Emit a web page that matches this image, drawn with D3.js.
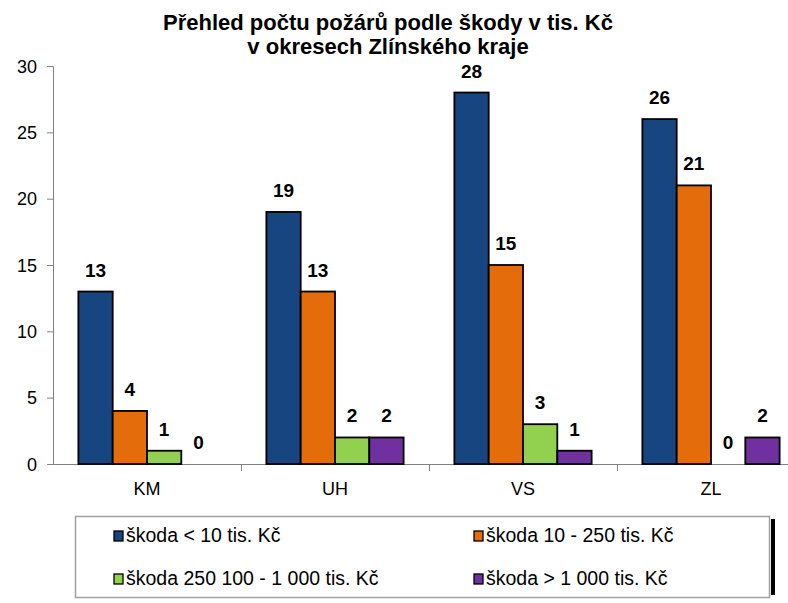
<!DOCTYPE html>
<html><head><meta charset="utf-8">
<script src="https://cdn.jsdelivr.net/npm/d3@7"></script>
<style>body{margin:0;background:#fff;} svg{display:block;font-family:Arial,"Liberation Sans",sans-serif;}</style>
</head><body>
<svg id="c" width="788" height="603"></svg>
<script>
const titleLines = ["Přehled počtu požárů podle škody v tis. Kč", "v okresech Zlínského kraje"];
const categories = ["KM", "UH", "VS", "ZL"];
const seriesNames = ["škoda < 10 tis. Kč", "škoda 10 - 250 tis. Kč", "škoda 250 100 - 1 000 tis. Kč", "škoda > 1 000 tis. Kč"];
const serLess10 = [13, 19, 28, 26];
const ser10to250 = [4, 13, 15, 21];
const ser250to1000 = [1, 2, 3, 0];
const serOver1000 = [0, 2, 1, 2];
const colors = ["#17457f", "#e46c0a", "#92d050", "#7030a0"];
const yTicks = [0, 5, 10, 15, 20, 25, 30];

const series = [serLess10, ser10to250, ser250to1000, serOver1000];
const svg = d3.select("#c");
const FONT = "Arial,'Liberation Sans',sans-serif";
const pLeft = 53, pRight = 805, pTop = 66, pBottom = 464;

const x = d3.scaleBand().domain(categories).range([pLeft, pRight]).paddingInner(0).paddingOuter(0);
const xi = d3.scaleBand().domain(d3.range(4)).range([0, x.bandwidth()]).paddingOuter(0.74).paddingInner(0);
const y = d3.scaleLinear().domain([0, 30]).range([pBottom, pTop]);

// title
svg.append("text").attr("text-anchor", "middle")
  .attr("font-weight", "bold").attr("font-size", 22).attr("fill", "#000")
  .selectAll("tspan").data(titleLines).join("tspan")
  .attr("x", 388).attr("y", (d, i) => 30 + i * 24).text(d => d);

// y axis
const yAxis = svg.append("g").attr("transform", `translate(${pLeft},0)`)
  .call(d3.axisLeft(y).tickValues(yTicks).tickSize(6).tickPadding(10));
yAxis.selectAll("path,line").attr("stroke", "#808080");
yAxis.selectAll("text").attr("font-size", 18).attr("fill", "#000").attr("font-family", FONT).attr("dy", "0.35em");

// x axis
const xAxis = svg.append("g").attr("transform", `translate(0,${pBottom})`)
  .call(d3.axisBottom(x).tickSize(0).tickPadding(18));
xAxis.select("path").attr("stroke", "#808080").attr("d", `M${pLeft},0.5H${pRight}`);
xAxis.selectAll("text").attr("font-size", 18).attr("fill", "#000").attr("font-family", FONT);
// category separators
svg.append("g").selectAll("line").data(categories.slice(1)).join("line")
  .attr("x1", d => x(d) + 0.5).attr("x2", d => x(d) + 0.5)
  .attr("y1", pBottom).attr("y2", pBottom + 7).attr("stroke", "#808080");

// bars
const data = [];
categories.forEach((c, ci) => series.forEach((s, si) => data.push({c, si, v: s[ci]})));
const gBars = svg.append("g");
gBars.selectAll("rect").data(data.filter(d => d.v > 0)).join("rect")
  .attr("x", d => x(d.c) + xi(d.si))
  .attr("width", xi.bandwidth())
  .attr("y", d => y(d.v))
  .attr("height", d => y(0) - y(d.v))
  .attr("fill", d => colors[d.si])
  .attr("stroke", "#000").attr("stroke-width", 1.8);
gBars.selectAll("text").data(data).join("text")
  .attr("x", d => x(d.c) + xi(d.si) + xi.bandwidth() / 2)
  .attr("y", d => y(d.v) - 15)
  .attr("text-anchor", "middle").attr("font-weight", "bold").attr("font-size", 19)
  .text(d => d.v);

// legend
const lg = svg.append("g");
lg.append("rect").attr("x", 771).attr("y", 519).attr("width", 4).attr("height", 76).attr("fill", "#000");
lg.append("rect").attr("x", 75.5).attr("y", 516.5).attr("width", 694).attr("height", 81)
  .attr("fill", "#fff").attr("stroke", "#a0a0a0").attr("stroke-width", 1.5);
const legPos = [[114, 542], [474, 542], [114, 585], [474, 585]];
seriesNames.forEach((n, i) => {
  const [lx, ly] = legPos[i];
  lg.append("rect").attr("x", lx).attr("y", ly - 11).attr("width", 9).attr("height", 10)
    .attr("fill", colors[i]).attr("stroke", "#000").attr("stroke-width", 1.3);
  lg.append("text").attr("x", lx + 12).attr("y", ly).attr("font-size", 19.5).attr("fill", "#000").text(n);
});
</script>
</body></html>
